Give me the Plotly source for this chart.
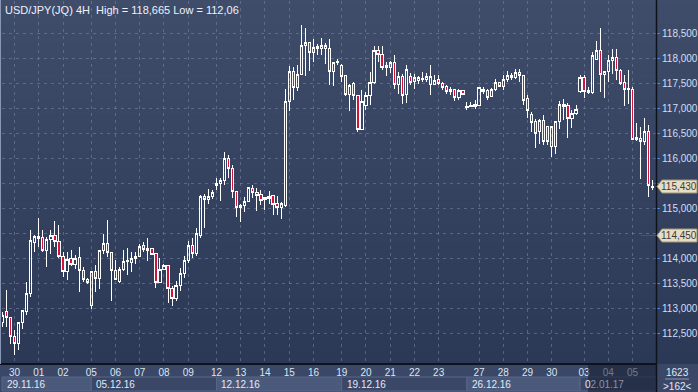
import plotly.graph_objects as go

# ---------------- data ----------------
title_text = "USD/JPY(JQ) 4H  High = 118,665 Low = 112,06"

day_labels = ["30", "01", "02", "05", "06", "07", "08", "09", "12", "13", "14", "15", "16",
              "19", "20", "21", "22", "23", "27", "28", "29", "30", "03", "04", "05"]
day_start_idx = [3, 9, 15, 22, 28, 34, 40, 46, 53, 59, 65, 71, 77,
                 84, 90, 96, 102, 108, 118, 124, 130, 136, 144, 150, 156]

week_labels = ["29.11.16", "05.12.16", "12.12.16", "19.12.16", "26.12.16", "02.01.17"]
week_start_idx = [-0.1, 22, 53, 84, 115, 143]

price_ticks = [112.5, 113.0, 113.5, 114.0, 114.5, 115.0, 115.5, 116.0, 116.5, 117.0, 117.5, 118.0, 118.5]
price_tick_labels = ["112,500", "113,000", "113,500", "114,000", "114,500", "115,000", "115,500",
                     "116,000", "116,500", "117,000", "117,500", "118,000", "118,500"]

last_price = 115.43
last_price_label = "115,430"
marker_price = 114.45
marker_price_label = "114,450"
bars_total_text = "1623"
bars_visible_text = ">162<"

open_ = [112.72, 112.93, 112.81, 112.43, 112.29, 112.71, 112.93, 113.29, 114.31, 114.39,
         114.41, 114.16, 114.37, 114.45, 114.34, 114.04, 113.73, 113.99, 113.88, 114.01,
         113.76, 113.57, 113.05, 113.74, 113.59, 114.15, 114.29, 114.12, 113.76, 113.53,
         113.77, 113.93, 113.91, 113.99, 114.04, 114.25, 114.16, 114.19, 114.09, 113.51,
         113.77, 113.86, 113.39, 113.20, 113.45, 113.70, 113.95, 114.25, 114.10, 114.45,
         115.23, 115.17, 115.23, 115.45, 115.49, 115.55, 115.99, 115.79, 115.34, 115.01,
         115.05, 115.14, 115.39, 115.32, 115.27, 115.17, 115.19, 115.25, 115.09, 115.01,
         115.06, 117.13, 117.74, 117.41, 117.67, 118.25, 118.31, 118.11, 118.19, 118.19,
         118.19, 118.19, 117.73, 117.91, 117.86, 117.65, 117.27, 117.49, 117.26, 116.58,
         117.06, 117.26, 117.51, 118.16, 118.08, 117.81, 117.81, 117.91, 117.48, 117.64,
         117.28, 117.64, 117.53, 117.56, 117.57, 117.57, 117.47, 117.47, 117.58, 117.49,
         117.43, 117.38, 117.38, 117.21, 117.36, 117.02, 117.03, 117.04, 117.06, 117.37,
         117.35, 117.24, 117.37, 117.51, 117.43, 117.57, 117.66, 117.61, 117.71, 117.66,
         117.19, 116.87, 116.73, 116.53, 116.76, 116.63, 116.23, 116.23, 116.73, 117.07,
         117.05, 116.79, 116.89, 117.34, 117.61, 117.35, 117.31, 117.98, 118.16, 117.68,
         117.73, 117.95, 118.01, 117.76, 117.51, 117.38, 117.38, 116.38, 116.39, 116.34,
         116.54, 115.41]

high_ = [112.93, 113.36, 112.83, 112.56, 112.72, 112.96, 113.53, 114.56, 114.47, 114.81,
         114.57, 114.43, 114.56, 114.75, 114.66, 114.13, 114.13, 114.16, 114.06, 114.23,
         113.83, 113.61, 113.74, 113.86, 114.16, 114.48, 114.77, 114.13, 113.96, 113.83,
         114.16, 114.21, 114.13, 114.13, 114.29, 114.33, 114.41, 114.20, 114.10, 114.01,
         113.89, 113.87, 113.45, 113.55, 113.80, 114.05, 114.35, 114.40, 114.60, 115.26,
         115.29, 115.38, 115.36, 115.61, 115.61, 116.13, 116.06, 115.86, 115.34, 115.09,
         115.23, 115.43, 115.47, 115.41, 115.36, 115.21, 115.34, 115.26, 115.24, 115.13,
         117.38, 117.84, 117.83, 117.86, 118.665, 118.61, 118.32, 118.38, 118.28, 118.41,
         118.31, 118.39, 117.92, 117.99, 117.89, 117.66, 117.49, 117.53, 117.27, 117.37,
         117.33, 117.73, 118.24, 118.24, 118.24, 117.93, 117.95, 118.06, 117.73, 117.69,
         117.86, 117.71, 117.69, 117.64, 117.73, 117.71, 117.86, 117.66, 117.66, 117.53,
         117.46, 117.43, 117.39, 117.38, 117.36, 117.13, 117.13, 117.17, 117.41, 117.43,
         117.39, 117.41, 117.59, 117.53, 117.66, 117.74, 117.71, 117.79, 117.78, 117.66,
         117.26, 116.93, 116.78, 116.78, 116.87, 116.63, 116.63, 116.73, 117.14, 117.19,
         117.11, 116.96, 117.06, 117.66, 117.66, 117.43, 118.13, 118.34, 118.61, 117.74,
         118.07, 118.19, 118.19, 117.79, 117.66, 117.76, 117.43, 116.71, 116.63, 116.81,
         116.67, 115.56]

low_ = [112.63, 112.63, 112.28, 112.06, 112.16, 112.58, 112.86, 113.23, 114.13, 114.23,
        114.13, 113.83, 114.09, 114.23, 114.01, 113.63, 113.57, 113.84, 113.79, 113.33,
        113.53, 113.49, 112.99, 113.33, 113.39, 114.09, 114.03, 113.15, 113.56, 113.51,
        113.74, 113.66, 113.73, 113.88, 114.03, 114.13, 113.95, 114.06, 113.41, 113.50,
        113.76, 113.11, 113.05, 113.15, 113.35, 113.60, 113.90, 114.00, 114.05, 114.40,
        114.60, 115.09, 115.19, 115.36, 115.15, 115.47, 115.61, 115.21, 114.83, 114.73,
        114.93, 115.14, 115.21, 114.94, 115.06, 114.96, 115.09, 114.87, 114.87, 114.78,
        115.03, 116.95, 117.16, 117.34, 117.66, 117.64, 117.74, 117.93, 118.06, 118.07,
        117.89, 117.47, 117.45, 117.86, 117.53, 117.24, 116.95, 117.16, 116.53, 116.58,
        116.96, 117.06, 117.48, 117.93, 117.76, 117.64, 117.71, 117.39, 117.29, 117.09,
        117.11, 117.46, 117.39, 117.49, 117.52, 117.52, 117.26, 117.46, 117.46, 117.36,
        117.29, 117.26, 117.14, 117.16, 117.26, 116.97, 117.03, 116.99, 117.04, 117.29,
        117.17, 117.23, 117.34, 117.43, 117.36, 117.53, 117.56, 117.59, 117.53, 117.07,
        116.81, 116.53, 116.21, 116.29, 116.26, 116.27, 116.03, 116.09, 116.59, 116.76,
        116.41, 116.61, 116.86, 117.30, 117.21, 117.29, 117.28, 117.98, 117.33, 117.21,
        117.53, 117.69, 117.56, 117.47, 117.05, 117.09, 116.38, 116.34, 115.59, 116.26,
        115.23, 115.36]

close_ = [112.86, 112.81, 112.44, 112.29, 112.71, 112.95, 113.29, 114.36, 114.43, 114.43,
          114.15, 114.38, 114.45, 114.34, 114.03, 113.73, 113.97, 113.88, 113.99, 113.75,
          113.57, 113.51, 113.73, 113.59, 114.16, 114.29, 114.12, 113.75, 113.58, 113.77,
          113.94, 113.95, 113.99, 114.04, 114.24, 114.17, 114.19, 114.07, 113.51, 113.77,
          113.86, 113.39, 113.20, 113.45, 113.70, 113.95, 114.25, 114.10, 114.50, 115.23,
          115.17, 115.23, 115.31, 115.49, 115.55, 115.99, 115.79, 115.33, 115.01, 115.06,
          115.14, 115.41, 115.31, 115.26, 115.16, 115.21, 115.24, 115.08, 115.01, 115.09,
          117.14, 117.74, 117.41, 117.67, 118.26, 118.31, 118.11, 118.21, 118.23, 118.25,
          118.26, 117.73, 117.91, 117.93, 117.63, 117.27, 117.46, 117.26, 116.58, 117.13,
          117.26, 117.51, 118.16, 118.08, 117.81, 117.85, 117.91, 117.48, 117.64, 117.26,
          117.77, 117.51, 117.61, 117.61, 117.59, 117.63, 117.63, 117.56, 117.49, 117.41,
          117.34, 117.33, 117.21, 117.36, 117.27, 117.04, 117.06, 117.08, 117.41, 117.33,
          117.21, 117.37, 117.51, 117.43, 117.57, 117.65, 117.61, 117.71, 117.65, 117.16,
          116.95, 116.71, 116.49, 116.76, 116.33, 116.33, 116.63, 116.73, 117.07, 117.03,
          116.79, 116.89, 116.98, 117.61, 117.34, 117.31, 118.06, 118.16, 117.68, 117.74,
          117.95, 118.01, 117.76, 117.49, 117.38, 117.39, 116.38, 116.41, 116.34, 116.54,
          115.45, 115.43]

# ---------------- layout geometry ----------------
W, H = 698, 392
ML, MR, MT, MB = 2, 42, 1, 28
PW, PH = W - ML - MR, H - MT - MB
X0, X1 = -0.1, 161.8
# y range from pixel calibration: 118.5 at y=33 px, 50 px per unit
Y_TOP = 118.5 + (33 - MT) / 50.0
Y_BOT = 118.5 - (H - MB - 33) / 50.0
FONT = "Liberation Sans, Arial"


def pxx(x):
    return (x - ML) / PW


def pxy(y):
    return (H - MB - y) / PH


def idx2px(i):
    return ML + (i - X0) / (X1 - X0) * PW


x = list(range(len(open_)))

fig = go.Figure()
fig.add_trace(go.Candlestick(
    x=x, open=open_, high=high_, low=low_, close=close_,
    increasing=dict(line=dict(color="#ffffff", width=1), fillcolor="rgba(0,0,0,0)"),
    decreasing=dict(line=dict(color="#ffffff", width=1), fillcolor="#d0143a"),
    whiskerwidth=0, hoverinfo="skip", showlegend=False,
))

shapes = []
# gradient background (plot + right panel)
top_c = (63, 77, 106)
bot_c = (43, 56, 86)
N = 60
for s in range(N):
    y0p = (H - MB) * s / N
    y1p = (H - MB) * (s + 1) / N + 0.6
    t = (s + 0.5) / N
    c = tuple(int(round(top_c[j] + (bot_c[j] - top_c[j]) * t)) for j in range(3))
    shapes.append(dict(type="rect", xref="paper", yref="paper", layer="below",
                       x0=pxx(0), x1=pxx(W), y0=pxy(y1p), y1=pxy(y0p),
                       fillcolor="rgb(%d,%d,%d)" % c, line=dict(width=0)))
# bottom axis area
shapes.append(dict(type="rect", xref="paper", yref="paper", layer="below",
                   x0=pxx(0), x1=pxx(W), y0=pxy(H), y1=pxy(H - MB),
                   fillcolor="#3a4767", line=dict(width=0)))
# weekly boxes
week_px = [idx2px(v) for v in week_start_idx] + [ML + PW]
for i in range(len(week_labels)):
    shapes.append(dict(type="rect", xref="paper", yref="paper", layer="below",
                       x0=pxx(max(week_px[i], 1)), x1=pxx(week_px[i + 1]),
                       y0=pxy(391), y1=pxy(377),
                       fillcolor="#4b5a7b" if i % 2 == 0 else "#3a4767",
                       line=dict(color="#56668a", width=1)))
# dark region on the right of the time axis
shapes.append(dict(type="rect", xref="paper", yref="paper", layer="above",
                   x0=pxx(588), x1=pxx(ML + PW), y0=pxy(H), y1=pxy(H - MB + 1),
                   fillcolor="rgba(22,30,50,0.55)", line=dict(width=0)))
# separators
shapes.append(dict(type="line", xref="paper", yref="paper", layer="above",
                   x0=pxx(0), x1=pxx(ML + PW), y0=pxy(H - MB), y1=pxy(H - MB),
                   line=dict(color="#0d121c", width=2)))
shapes.append(dict(type="line", xref="paper", yref="paper", layer="above",
                   x0=pxx(ML + PW + 0.5), x1=pxx(ML + PW + 0.5), y0=pxy(H), y1=pxy(0),
                   line=dict(color="#0d121c", width=1.5)))
shapes.append(dict(type="line", xref="paper", yref="paper", layer="above",
                   x0=pxx(0.5), x1=pxx(0.5), y0=pxy(H - MB), y1=pxy(0),
                   line=dict(color="#8797b5", width=1)))
shapes.append(dict(type="line", xref="paper", yref="paper", layer="above",
                   x0=pxx(665), x1=pxx(689), y0=pxy(379), y1=pxy(379),
                   line=dict(color="#8a98b4", width=1)))
# marker line segment
shapes.append(dict(type="line", xref="paper", yref="y", layer="above",
                   x0=pxx(641), x1=pxx(ML + PW), y0=marker_price, y1=marker_price,
                   line=dict(color="#d4173e", width=1)))


def price_tag(price):
    yc = pxy(H - MB - (price - Y_BOT) / (Y_TOP - Y_BOT) * PH)
    h = 6.5 / PH
    xl, xb, xr = pxx(657), pxx(662), pxx(697)
    return dict(type="path", xref="paper", yref="paper", layer="above",
                path="M %f %f L %f %f L %f %f L %f %f L %f %f Z" % (
                    xl, yc, xb, yc + h, xr, yc + h, xr, yc - h, xb, yc - h),
                fillcolor="#e6dec4", line=dict(color="#9b9478", width=1))


tag_prices = [last_price, marker_price]
shapes.append(price_tag(last_price))
shapes.append(price_tag(marker_price))

# axis labels hidden under the price tags
shown_tick_text = [("" if any(abs(p - tp) < 0.2 for tp in tag_prices) else t)
                   for p, t in zip(price_ticks, price_tick_labels)]

annotations = []
annotations.append(dict(text=title_text, xref="paper", yref="paper", x=pxx(3), y=pxy(10),
                        xanchor="left", yanchor="middle", showarrow=False,
                        font=dict(family=FONT, size=11, color="#eef2fa")))
for i, lab in enumerate(week_labels):
    txt = lab
    if i == len(week_labels) - 1:
        txt = lab[0] + '<span style="color:#8a93a8">' + lab[1:] + '</span>'
    annotations.append(dict(text=txt, xref="paper", yref="paper",
                            x=pxx(max(week_px[i], 1) + 3), y=pxy(384.5),
                            xanchor="left", yanchor="middle", showarrow=False,
                            font=dict(family=FONT, size=10, color="#e2e9f5")))
for price, lab in [(last_price, last_price_label), (marker_price, marker_price_label)]:
    annotations.append(dict(text=lab, xref="paper", yref="y", x=pxx(679), y=price,
                            xanchor="center", yanchor="middle", showarrow=False,
                            font=dict(family=FONT, size=10, color="#3b3b3b")))
annotations.append(dict(text=bars_total_text, xref="paper", yref="paper", x=pxx(677), y=pxy(372),
                        xanchor="center", yanchor="middle", showarrow=False,
                        font=dict(family=FONT, size=10, color="#e2e9f5")))
annotations.append(dict(text=bars_visible_text, xref="paper", yref="paper", x=pxx(677), y=pxy(386),
                        xanchor="center", yanchor="middle", showarrow=False,
                        font=dict(family=FONT, size=10, color="#e2e9f5")))

grid_col = "rgba(120,136,170,0.55)"
fig.update_layout(
    width=W, height=H,
    margin=dict(l=ML, r=MR, t=MT, b=MB, pad=0),
    paper_bgcolor="#34415f", plot_bgcolor="rgba(0,0,0,0)",
    showlegend=False, boxgap=0.2,
    shapes=shapes, annotations=annotations,
    xaxis=dict(range=[X0, X1], rangeslider=dict(visible=False), tickmode="array",
               tickvals=day_start_idx, ticktext=day_labels, ticks="", showline=False,
               zeroline=False, showgrid=True, gridcolor=grid_col, griddash="3px,4px",
               gridwidth=1, tickfont=dict(family=FONT, size=10, color="#dde5f2"),
               ticklabelstandoff=1),
    yaxis=dict(range=[Y_BOT, Y_TOP], side="right", tickmode="array", tickvals=price_ticks,
               ticktext=shown_tick_text, ticks="outside", ticklen=3, tickcolor="#3d8bff",
               showline=False, zeroline=False, showgrid=True, gridcolor=grid_col,
               griddash="3px,4px", gridwidth=1,
               tickfont=dict(family=FONT, size=10, color="#d3def2")),
)

crisp_js = """
document.body.style.margin='0';
document.body.style.overflow='hidden';
document.querySelectorAll('.trace.boxes path').forEach(function(p){
  p.style.shapeRendering='crispEdges';
});
"""

fig.write_html("out.html", config={"displayModeBar": False}, post_script=crisp_js)
